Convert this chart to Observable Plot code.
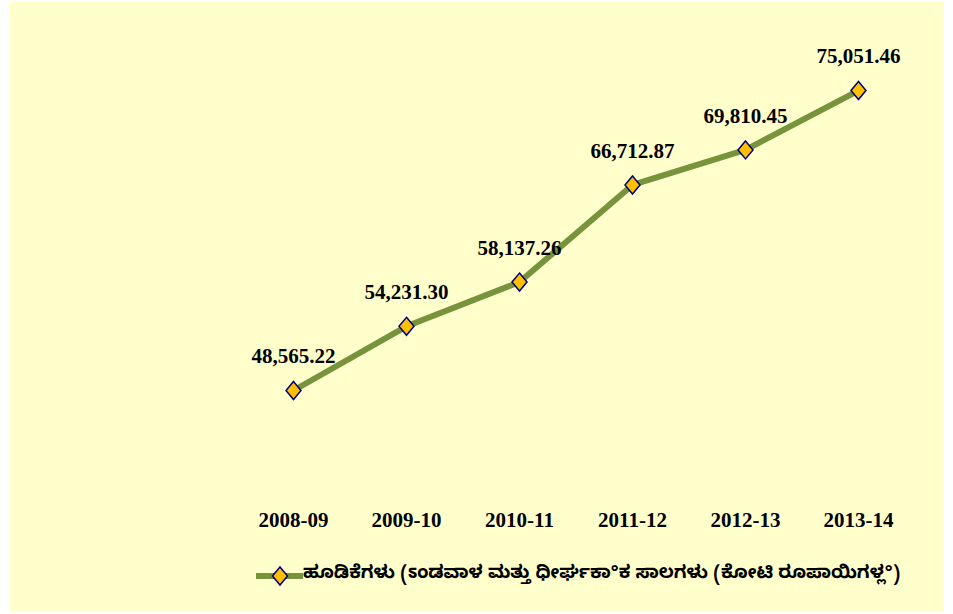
<!DOCTYPE html>
<html>
<head>
<meta charset="utf-8">
<script src="https://cdn.jsdelivr.net/npm/d3@7"></script>
<script src="https://cdn.jsdelivr.net/npm/@observablehq/plot@0.6"></script>
<style>
  html, body { margin: 0; padding: 0; background: #ffffff; }
  #frame { position: absolute; left: 10px; top: 2px; width: 934px; height: 610px; background: #FFFFCC; overflow: hidden; }
  #chart { position: absolute; left: 0; top: 0; }
  #legend { position: absolute; left: 246px; top: 561px; display: flex; align-items: center; white-space: nowrap; }
  #legend span { font-family: "Noto Sans Kannada", "Noto Sans", "DejaVu Sans", sans-serif; font-weight: bold; font-size: 18.3px; color: #000; }
</style>
</head>
<body>
<div id="frame">
  <div id="chart"></div>
  <div id="legend"></div>
</div>
<script>
const years = ["2008-09", "2009-10", "2010-11", "2011-12", "2012-13", "2013-14"];
const values = [48565.22, 54231.30, 58137.26, 66712.87, 69810.45, 75051.46];
const valueLabels = ["48,565.22", "54,231.30", "58,137.26", "66,712.87", "69,810.45", "75,051.46"];
const seriesName = "ಹೂಡಿಕೆಗಳು (ಽಂಡವಾಳ ಮತ್ತು ಧೀರ್ಘಕಾ°ಕ ಸಾಲಗಳು (ಕೋಟಿ ರೂಪಾಯಿಗಳ್ಲ°)";

const data = years.map((y, i) => ({year: y, value: values[i], label: valueLabels[i]}));

const lineColor = "#77933C";
const markerFill = "#FFC000";
const markerStroke = "#000080";

const diamond = {
  draw(ctx) {
    const w = 7.5, h = 9;
    ctx.moveTo(0, -h);
    ctx.lineTo(w, 0);
    ctx.lineTo(0, h);
    ctx.lineTo(-w, 0);
    ctx.closePath();
  }
};

const chart = Plot.plot({
  width: 934,
  height: 545,
  marginLeft: 225.4,
  marginRight: 29.4,
  marginTop: 32,
  marginBottom: 60,
  style: {background: "transparent", fontFamily: "'Liberation Serif', 'Times New Roman', serif", color: "#000"},
  x: {type: "point", domain: years, padding: 0.5, label: null},
  y: {domain: [40000, 80000], axis: null},
  marks: [
    Plot.axisX({tickSize: 0, tickPadding: 25, fontSize: 21, fontWeight: "bold", label: null}),
    Plot.line(data, {x: "year", y: "value", stroke: lineColor, strokeWidth: 6, strokeLinejoin: "round"}),
    Plot.dot(data, {x: "year", y: "value", symbol: diamond, fill: markerFill, stroke: markerStroke, strokeWidth: 1.5}),
    Plot.text(data, {x: "year", y: "value", text: "label", dy: -34, fontSize: 21, fontWeight: "bold", fill: "#000"})
  ]
});
document.getElementById("chart").appendChild(chart);

// legend
const legend = document.getElementById("legend");
const ns = "http://www.w3.org/2000/svg";
const sw = document.createElementNS(ns, "svg");
sw.setAttribute("width", 47);
sw.setAttribute("height", 24);
const ln = document.createElementNS(ns, "line");
ln.setAttribute("x1", 0); ln.setAttribute("x2", 47);
ln.setAttribute("y1", 12); ln.setAttribute("y2", 12);
ln.setAttribute("stroke", lineColor); ln.setAttribute("stroke-width", 6);
sw.appendChild(ln);
const dm = document.createElementNS(ns, "path");
dm.setAttribute("d", "M24,3L31.5,12L24,21L16.5,12Z");
dm.setAttribute("fill", markerFill); dm.setAttribute("stroke", markerStroke); dm.setAttribute("stroke-width", 1.5);
sw.appendChild(dm);
legend.appendChild(sw);
const txt = document.createElement("span");
txt.textContent = seriesName;
legend.appendChild(txt);
</script>
</body>
</html>
